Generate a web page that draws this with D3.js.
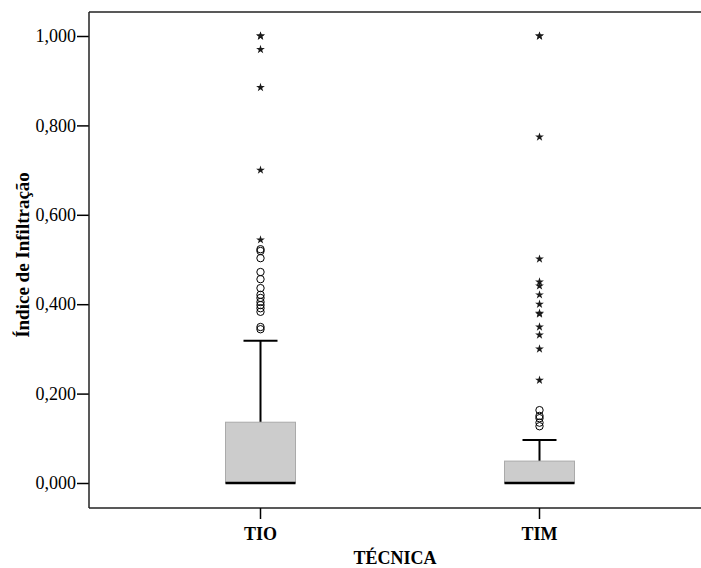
<!DOCTYPE html>
<html>
<head>
<meta charset="utf-8">
<script src="https://cdn.jsdelivr.net/npm/d3@7"></script>
<style>
  body { margin: 0; background: #fff; }
  svg text { font-family: "Liberation Serif", "Times New Roman", serif; }
</style>
</head>
<body>
<div id="chart"></div>
<script>
const categories = ["TIO", "TIM"];
const q1 = [0, 0];
const median = [0, 0];
const q3 = [0.136, 0.049];
const whiskerLow = [0, 0];
const whiskerHigh = [0.318, 0.096];
// outliers (circles) and extremes (stars), per category
const outliersTIO = [0.523, 0.519, 0.503, 0.472, 0.456, 0.436, 0.421, 0.414, 0.405, 0.398, 0.391, 0.383, 0.349, 0.344];
const extremesTIO = [1.0, 1.0, 0.970, 0.885, 0.700, 0.544];
const outliersTIM = [0.163, 0.150, 0.145, 0.135, 0.127];
const extremesTIM = [1.0, 1.0, 0.774, 0.501, 0.450, 0.441, 0.421, 0.400, 0.380, 0.378, 0.349, 0.331, 0.300, 0.230];
const yTicks = [0, 0.2, 0.4, 0.6, 0.8, 1.0];

const width = 701, height = 568;
const frame = {left: 89, top: 12, right: 712, bottom: 508};
const serif = "'Liberation Serif', 'Times New Roman', serif";

const svg = d3.select("#chart")
    .append("svg")
    .attr("width", width)
    .attr("height", height);

const y = d3.scaleLinear()
    .domain([0, 1])
    .range([483, 36]);

const x = d3.scaleBand()
    .domain(categories)
    .range([121, 679]);

const fmt = d => d3.format(".3f")(d).replace(".", ",");

// frame
svg.append("line")
    .attr("x1", frame.left).attr("x2", frame.right)
    .attr("y1", frame.top).attr("y2", frame.top)
    .attr("stroke", "#222").attr("stroke-width", 1.5);
svg.append("line")
    .attr("x1", frame.left).attr("x2", frame.right)
    .attr("y1", frame.bottom).attr("y2", frame.bottom)
    .attr("stroke", "#222").attr("stroke-width", 1.5);

// Y axis
const yAxis = svg.append("g")
    .attr("transform", "translate(" + frame.left + ",0)")
    .call(d3.axisLeft(y).tickValues(yTicks).tickFormat(fmt).tickSize(12).tickPadding(1))
    .attr("font-family", serif)
    .attr("font-size", 18);
yAxis.select(".domain").remove();
yAxis.append("line")
    .attr("x1", 0).attr("x2", 0)
    .attr("y1", frame.top).attr("y2", frame.bottom)
    .attr("stroke", "#222").attr("stroke-width", 1.5);
yAxis.selectAll(".tick line").attr("stroke", "#000").attr("stroke-width", 1.5);
yAxis.selectAll("text").attr("fill", "#000");

// X axis
const xAxis = svg.append("g")
    .attr("transform", "translate(0," + frame.bottom + ")")
    .call(d3.axisBottom(x).tickSize(11).tickPadding(8))
    .attr("font-family", serif)
    .attr("font-size", 18)
    .attr("font-weight", "bold");
xAxis.select(".domain").remove();
xAxis.selectAll(".tick line").attr("stroke", "#000").attr("stroke-width", 1.5);
xAxis.selectAll("text").attr("fill", "#000");

// boxes
const boxW = 70, capW = 34;
categories.forEach((c, i) => {
    const cx = x(c) + x.bandwidth() / 2;
    const g = svg.append("g");
    g.append("line")
        .attr("x1", cx).attr("x2", cx)
        .attr("y1", y(q3[i])).attr("y2", y(whiskerHigh[i]))
        .attr("stroke", "#000").attr("stroke-width", 2);
    g.append("line")
        .attr("x1", cx - capW / 2).attr("x2", cx + capW / 2)
        .attr("y1", y(whiskerHigh[i])).attr("y2", y(whiskerHigh[i]))
        .attr("stroke", "#000").attr("stroke-width", 2);
    g.append("line")
        .attr("x1", cx).attr("x2", cx)
        .attr("y1", y(q1[i])).attr("y2", y(whiskerLow[i]))
        .attr("stroke", "#000").attr("stroke-width", 2);
    g.append("rect")
        .attr("x", cx - boxW / 2)
        .attr("y", y(q3[i]))
        .attr("width", boxW)
        .attr("height", y(q1[i]) - y(q3[i]))
        .attr("fill", "#cccccc")
        .attr("stroke", "#aaaaaa")
        .attr("stroke-width", 1);
    g.append("line")
        .attr("x1", cx - boxW / 2).attr("x2", cx + boxW / 2)
        .attr("y1", y(median[i])).attr("y2", y(median[i]))
        .attr("stroke", "#000").attr("stroke-width", 2.5);
});

const outliers = [outliersTIO, outliersTIM];
const extremes = [extremesTIO, extremesTIM];
const star = d3.symbol().type(d3.symbolStar).size(24);

categories.forEach((c, i) => {
    const cx = x(c) + x.bandwidth() / 2;
    svg.selectAll(".out-" + i)
        .data(outliers[i])
        .enter().append("circle")
        .attr("class", "out-" + i)
        .attr("cx", cx)
        .attr("cy", d => y(d))
        .attr("r", 3.7)
        .attr("fill", "none")
        .attr("stroke", "#000")
        .attr("stroke-width", 1);
    svg.selectAll(".ext-" + i)
        .data(extremes[i])
        .enter().append("path")
        .attr("class", "ext-" + i)
        .attr("d", star)
        .attr("transform", d => "translate(" + cx + "," + y(d) + ")")
        .attr("fill", "#1a1a1a")
        .attr("stroke", "none");
});

// axis titles
svg.append("text")
    .attr("x", 395)
    .attr("y", 564)
    .attr("text-anchor", "middle")
    .attr("font-family", serif)
    .attr("font-size", 18)
    .attr("font-weight", "bold")
    .text("TÉCNICA");

svg.append("text")
    .attr("transform", "translate(29,255) rotate(-90)")
    .attr("text-anchor", "middle")
    .attr("font-family", serif)
    .attr("font-size", 19)
    .attr("font-weight", "bold")
    .text("Índice de Infiltração");
</script>
</body>
</html>
